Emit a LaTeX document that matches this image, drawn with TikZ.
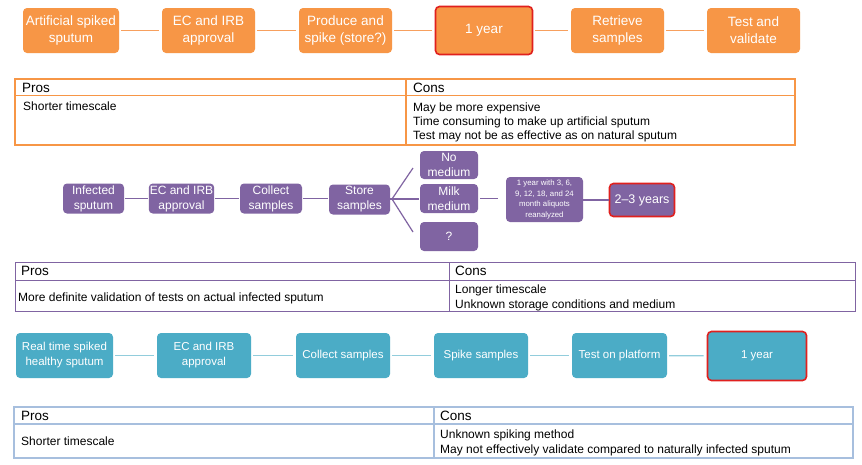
\documentclass[tikz,border=0pt]{standalone}
\usepackage{fontspec}
\setmainfont{Liberation Sans}
\begin{document}
\definecolor{orgfill}{HTML}{F79646}
\definecolor{orgline}{HTML}{F7A05E}
\definecolor{purfill}{HTML}{8064A2}
\definecolor{purline}{HTML}{8064A2}
\definecolor{tealfill}{HTML}{4BACC6}
\definecolor{tealline}{HTML}{92CDDC}
\definecolor{tblblue}{HTML}{A7BFDE}
\definecolor{alertred}{HTML}{E0201E}
\begin{tikzpicture}[x=1pt,y=-1pt,
  box/.style={rectangle,rounded corners=4pt,draw=none,text=white,align=center,inner sep=1pt},
  obox/.style={box,fill=orgfill,font=\fontsize{13.5}{17}\selectfont},
  pbox/.style={box,fill=purfill,font=\fontsize{12}{15}\selectfont},
  tbox/.style={box,fill=tealfill,font=\fontsize{11.5}{15}\selectfont},
  alert/.style={draw=alertred,line width=1.6pt},
  oline/.style={draw=orgline,line width=1.2pt},
  pline/.style={draw=purline,line width=1.2pt},
  tline/.style={draw=tealline,line width=1.2pt},
  hdr/.style={anchor=west,inner sep=0pt,font=\fontsize{13.5}{16}\selectfont},
  cell/.style={anchor=west,inner sep=0pt,align=left,font=\fontsize{12}{15}\selectfont},
]
\useasboundingbox (0,0) rectangle (862,464);
\fill[white] (0,0) rectangle (862,464);

% ---------- Option 1: artificial spiked sputum ----------
\node[obox,minimum width=96pt,minimum height=45pt] (a1) at (71,30.5) {Artificial spiked\\sputum};
\node[obox,minimum width=93pt,minimum height=45pt] (a2) at (208.5,30.5) {EC and IRB\\approval};
\node[obox,minimum width=93pt,minimum height=45pt] (a3) at (345.5,30.5) {Produce and\\spike (store?)};
\node[obox,alert,minimum width=97pt,minimum height=48pt] (a4) at (484,30.5) {1 year};
\node[obox,minimum width=93pt,minimum height=45pt] (a5) at (617.5,30.5) {Retrieve\\samples};
\node[obox,minimum width=93pt,minimum height=45pt] (a6) at (753.5,30.5) {Test and\\validate};
\foreach \p/\q in {a1/a2,a2/a3,a3/a4,a4/a5,a5/a6}
  \draw[oline,shorten <=2pt,shorten >=3pt] (\p) -- (\q);

\draw[draw=orgfill,line width=1.3pt] (15,79) rectangle (795,145);
\draw[draw=orgfill,line width=1.3pt] (15,95.5) -- (795,95.5);
\draw[draw=orgfill,line width=1.3pt] (406,79) -- (406,145);
\node[hdr] (t1p) at (22,87.5) {Pros};
\node[hdr] (t1c) at (413,87.5) {Cons};
\node[cell] (t1pb) at (23,106) {Shorter timescale};
\node[cell,anchor=north west,font=\fontsize{12}{14}\selectfont] (t1cb) at (413,102.5) {May be more expensive\\Time consuming to make up artificial sputum\\Test may not be as effective as on natural sputum};

% ---------- Option 2: infected sputum ----------
\node[pbox,minimum width=61pt,minimum height=30pt] (b1) at (93.5,198.5) {Infected\\sputum};
\node[pbox,minimum width=65pt,minimum height=30pt] (b2) at (181.5,198.5) {EC and IRB\\approval};
\node[pbox,minimum width=62pt,minimum height=30pt] (b3) at (271,198.5) {Collect\\samples};
\node[pbox,minimum width=61pt,minimum height=30pt] (b4) at (359.5,199.5) {Store\\samples};
\node[pbox,minimum width=58pt,minimum height=28pt] (n1) at (449,165) {No\\medium};
\node[pbox,minimum width=58pt,minimum height=29pt] (n2) at (449,198.5) {Milk\\medium};
\node[pbox,minimum width=58pt,minimum height=29pt] (n3) at (449,236.5) {?};
\node[pbox,minimum width=77pt,minimum height=45pt,font=\fontsize{7.8}{10.5}\selectfont] (b5) at (544.5,199.5) {1 year with 3, 6,\\9, 12, 18, and 24\\month aliquots\\reanalyzed};
\node[pbox,alert,minimum width=65pt,minimum height=33pt,font=\fontsize{12.5}{15}\selectfont] (b6) at (642,200) {2--3 years};
\coordinate (fan) at (392,199);
\coordinate (fanup) at (413,168);
\coordinate (fandn) at (413,232);
\foreach \p/\q in {b1/b2,b2/b3}
  \draw[pline,shorten <=1pt,shorten >=1pt] (\p) -- (\q);
\draw[pline,shorten <=1pt,shorten >=1pt] (b3.east) -- (b3.east -| b4.west);
\draw[pline] (b4.east |- fan) -- (fan);
\draw[pline] (fan) -- (fanup);
\draw[pline] (fan) -- (fandn);
\draw[pline,shorten >=1pt] (fan) -- (fan -| n2.west);
\draw[pline,shorten <=2pt,shorten >=8pt] (n2.east) -- (n2.east -| b5.west);
\draw[pline] (b5.east |- b6) -- (b6.west);

\draw[draw=purline,line width=1pt] (15,262) rectangle (855,311);
\draw[draw=purline,line width=1pt] (15,280) -- (855,280);
\draw[draw=purline,line width=1pt] (449,262) -- (449,311);
\node[hdr] (t2p) at (21,271) {Pros};
\node[hdr] (t2c) at (455,271) {Cons};
\node[cell] (t2pb) at (18,298) {More definite validation of tests on actual infected sputum};
\node[cell,anchor=north west] (t2cb) at (455,285) {Longer timescale\\Unknown storage conditions and medium};

% ---------- Option 3: real time spiked healthy sputum ----------
\node[tbox,minimum width=97pt,minimum height=45pt] (c1) at (64.5,355.5) {Real time spiked\\healthy sputum};
\node[tbox,minimum width=94pt,minimum height=45pt] (c2) at (204,355.5) {EC and IRB\\approval};
\node[tbox,minimum width=94pt,minimum height=45pt] (c3) at (343,355.5) {Collect samples};
\node[tbox,minimum width=94pt,minimum height=45pt] (c4) at (481,355.5) {Spike samples};
\node[tbox,minimum width=95pt,minimum height=45pt] (c5) at (619.5,355.5) {Test on platform};
\node[tbox,alert,minimum width=99pt,minimum height=49pt] (c6) at (757,356) {1 year};
\foreach \p/\q in {c1/c2,c2/c3,c3/c4,c4/c5,c5/c6}
  \draw[tline,shorten <=2pt,shorten >=3pt] (\p) -- (\q);

\draw[draw=tblblue,line width=1.2pt] (14,407) rectangle (853,458);
\draw[draw=tblblue,line width=1.2pt] (14,424) -- (853,424);
\draw[draw=tblblue,line width=1.2pt] (434,407) -- (434,458);
\node[hdr] (t3p) at (21,415.5) {Pros};
\node[hdr] (t3c) at (440,415.5) {Cons};
\node[cell] (t3pb) at (21,441) {Shorter timescale};
\node[cell,anchor=north west] (t3cb) at (440,430) {Unknown spiking method\\May not effectively validate compared to naturally infected sputum};
\end{tikzpicture}
\end{document}
